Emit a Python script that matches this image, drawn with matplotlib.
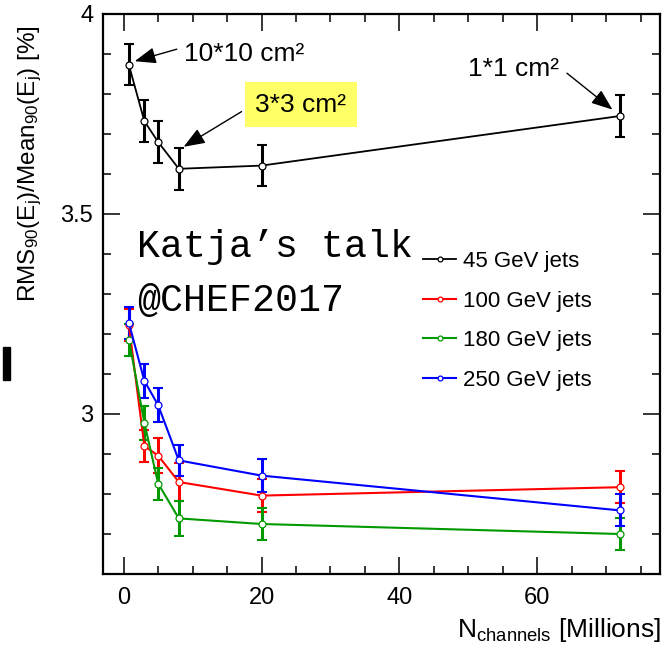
import matplotlib
matplotlib.use("Agg")
import matplotlib.pyplot as plt
from matplotlib.patches import Rectangle
from matplotlib.ticker import MultipleLocator

plt.rcParams["font.family"] = ["Liberation Sans", "DejaVu Sans"]
plt.rcParams["mathtext.fontset"] = "custom"
plt.rcParams["mathtext.rm"] = "Liberation Sans"
plt.rcParams["mathtext.it"] = "Liberation Sans"

# Number of readout channels (millions)
n_channels = [0.75, 3, 5, 8, 20, 72]

# Jet energy resolution RMS90/Mean90 [%] per jet energy
res_45 = [3.873, 3.732, 3.680, 3.613, 3.621, 3.745]
err_45 = [0.051, 0.052, 0.052, 0.052, 0.052, 0.052]
res_100 = [3.222, 2.920, 2.896, 2.830, 2.796, 2.817]
err_100 = [0.040, 0.040, 0.043, 0.048, 0.042, 0.040]
res_180 = [3.186, 2.978, 2.826, 2.739, 2.725, 2.700]
err_180 = [0.040, 0.042, 0.040, 0.043, 0.040, 0.040]
res_250 = [3.228, 3.083, 3.022, 2.884, 2.846, 2.759]
err_250 = [0.040, 0.043, 0.042, 0.039, 0.042, 0.040]

labels = ["45 GeV jets", "100 GeV jets", "180 GeV jets", "250 GeV jets"]
colors = ["black", "#ff0000", "#009a00", "#0000ff"]
talk_lines = ["Katja’s talk", "@CHEF2017"]

fig = plt.figure(figsize=(6.63, 6.49), dpi=100)
ax = fig.add_axes([103 / 663, 1 - 574 / 649, 557 / 663, 560 / 649])

handles = []
series = [(res_45, err_45), (res_100, err_100), (res_180, err_180), (res_250, err_250)]
for (vals, errs), col, lab in zip(series, colors, labels):
    lw = 1.3 if col == "black" else 1.5
    ax.errorbar(n_channels, vals, yerr=errs, fmt="none", ecolor=col,
                elinewidth=2.2, capsize=3.5, capthick=1.5, zorder=2)
    line, = ax.plot(n_channels, vals, "-o", color=col, lw=lw, ms=5,
                    mfc="white", mec=col, mew=0.9, label=lab, zorder=3)
    handles.append(line)

ax.set_xlim(-3, 77.8)
ax.set_ylim(2.6, 4.0)
ax.xaxis.set_major_locator(MultipleLocator(20))
ax.xaxis.set_minor_locator(MultipleLocator(5))
ax.yaxis.set_major_locator(MultipleLocator(0.5))
ax.yaxis.set_minor_locator(MultipleLocator(0.1))
ax.set_yticks([3, 3.5, 4])
ax.set_yticklabels(["3", "3.5", "4"])
ax.tick_params(which="both", direction="in", top=True, right=True, width=1.1)
ax.tick_params(which="major", length=12, labelsize=17)
ax.tick_params(axis="x", which="major", pad=9)
ax.tick_params(axis="y", which="major", pad=7)
ax.tick_params(which="minor", length=6)
for sp in ax.spines.values():
    sp.set_linewidth(1.6)

# Axis titles
fig.text(30 / 663, 1 - 164 / 649,
         r"RMS$_{90}$(E$_{\rm j}$)/Mean$_{90}$(E$_{\rm j}$) [%]",
         rotation=90, ha="center", va="center", fontsize=17.5)
fig.text(661 / 663, 1 - 630 / 649, r"N$_{\rm channels}$ [Millions]",
         ha="right", va="center", fontsize=19)

# Cell size annotations
arrow = dict(arrowstyle="-|>,head_length=1.3,head_width=0.5",
             color="black", lw=1.0, shrinkA=0, shrinkB=0)
ax.annotate("", xy=(1.6, 3.882), xytext=(7.7, 3.912), arrowprops=arrow)
ax.text(8.8, 3.9, "10*10 cm²", fontsize=19, ha="left", va="center")
ax.annotate("", xy=(8.7, 3.668), xytext=(17.1, 3.756), arrowprops=arrow)
ax.text(25.7, 3.773, "3*3 cm²", fontsize=19, ha="center", va="center",
        bbox=dict(boxstyle="square,pad=0.4", fc="#ffff66", ec="none"))
ax.annotate("", xy=(70.9, 3.761), xytext=(64.3, 3.852), arrowprops=arrow)
ax.text(56.5, 3.862, "1*1 cm²", fontsize=19, ha="center", va="center")

# Talk reference
for txt, base in zip(talk_lines, [257, 311]):
    fig.text(137 / 663, 1 - base / 649, txt,
             family=["Liberation Mono", "DejaVu Sans Mono"],
             fontsize=27.5, ha="left", va="baseline")

ax.legend(handles=handles, loc="center left", bbox_to_anchor=(0.5745, 0.452),
          frameon=False, fontsize=16, handlelength=1.5, handletextpad=0.3,
          labelspacing=0.83, borderpad=0, borderaxespad=0, markerscale=0.7)

fig.patches.append(Rectangle((3 / 663, 1 - 380 / 649), 7 / 663, 33 / 649,
                             transform=fig.transFigure, color="black"))

fig.savefig("out.png", dpi=100)
